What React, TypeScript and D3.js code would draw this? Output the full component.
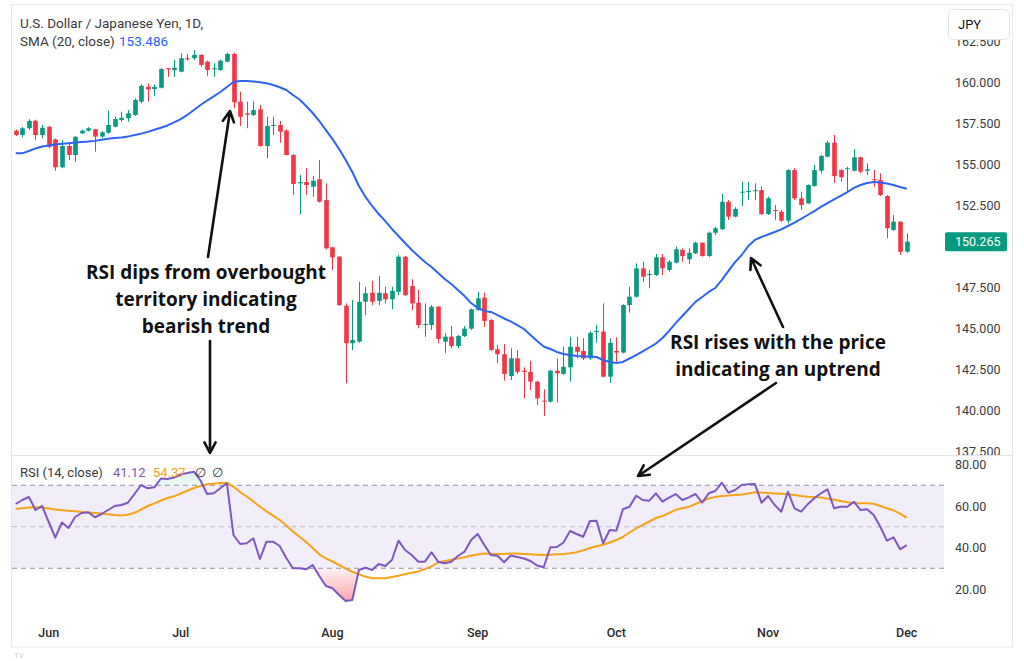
import React from "react";
import * as d3 from "d3";

// ---------------- DATA ----------------
const opens = [
  157.03,156.77,157.18,157.64,156.77,157.27,156.50,154.80,156.10,155.55,
  156.87,157.03,157.12,156.67,156.91,157.27,157.68,157.79,157.99,158.80,
  159.71,159.57,159.65,160.84,160.73,160.63,161.45,161.45,161.65,161.24,
  160.77,160.73,161.24,161.71,158.80,158.09,157.99,158.33,156.10,157.32,
  157.38,157.03,155.55,153.82,153.90,153.62,154.07,152.80,149.92,149.35,
  146.36,144.07,144.17,146.60,147.15,146.66,147.12,146.75,147.21,149.35,
  147.56,146.54,145.18,145.18,146.30,144.17,144.47,143.90,144.51,144.96,
  146.10,146.85,145.49,143.70,143.40,142.07,143.15,142.40,142.32,141.73,
  140.57,140.51,142.40,142.20,142.60,143.86,143.60,143.15,144.75,144.78,
  142.03,143.60,143.50,146.40,146.91,148.64,148.23,148.23,149.31,148.54,
  148.98,149.76,149.19,149.55,150.20,149.39,150.81,151.02,152.70,151.79,
  153.25,153.29,153.34,153.41,151.95,152.20,152.09,151.54,154.63,152.91,
  152.60,153.66,154.59,155.45,156.30,154.63,154.68,154.59,155.41,154.59,
  154.07,154.02,153.05,150.98,151.48,149.65
];
const highs = [
  157.10,157.25,157.73,157.70,157.38,157.32,156.55,156.46,156.22,156.70,
  157.10,157.25,157.15,157.00,158.25,157.88,158.19,158.29,159.00,159.86,
  159.92,159.86,160.85,160.85,161.34,161.75,161.71,161.95,161.70,161.30,
  161.14,161.35,161.79,161.79,159.41,158.80,158.84,158.60,157.88,157.88,
  157.62,157.12,155.60,154.33,154.74,154.27,155.24,153.82,149.95,149.40,
  146.50,146.71,147.82,147.52,147.88,148.17,147.52,147.52,149.45,149.40,
  147.97,147.32,146.50,146.40,146.35,144.68,145.12,144.57,145.12,146.20,
  147.21,147.15,145.55,143.96,144.02,143.76,143.66,142.60,143.00,141.79,
  141.26,142.45,143.15,143.86,144.47,144.47,144.37,144.80,145.18,146.50,
  144.37,144.43,146.45,147.52,148.94,149.04,148.54,149.51,149.51,149.15,
  149.96,149.86,149.86,150.26,150.22,150.88,151.18,153.17,152.80,152.36,
  153.92,153.92,153.82,153.62,153.01,152.50,152.20,154.68,154.74,153.31,
  153.75,154.94,155.55,156.42,156.77,154.68,154.84,155.90,155.45,155.04,
  154.63,154.43,153.10,151.89,151.50,150.77
];
const lows = [
  156.70,156.63,157.07,156.46,156.57,155.96,154.59,154.74,155.24,155.14,
  156.85,156.98,155.75,156.60,156.85,157.24,157.58,157.58,157.93,158.70,
  158.80,159.15,159.60,160.32,160.32,160.59,161.30,161.34,160.93,160.37,
  160.32,160.68,161.20,158.40,157.32,157.18,157.93,156.05,155.35,156.77,
  156.30,155.53,153.11,151.95,153.11,153.00,152.65,149.80,148.54,146.35,
  141.63,143.66,144.10,145.79,146.40,146.40,146.50,146.14,147.00,146.95,
  146.10,144.98,144.47,144.88,144.07,143.46,143.76,143.76,144.45,144.88,
  146.06,145.08,143.60,142.85,141.79,141.83,142.20,140.71,141.22,140.30,
  139.63,140.45,140.45,142.15,141.73,143.15,143.05,143.05,144.10,141.98,
  141.66,142.94,143.45,145.94,146.85,147.82,147.42,148.17,148.23,148.43,
  148.94,149.04,148.90,149.51,149.35,149.33,150.67,150.98,151.59,151.75,
  152.44,152.80,152.80,151.89,151.89,151.59,151.48,151.38,152.80,152.20,
  152.58,153.62,154.43,155.41,153.86,153.92,153.31,154.55,154.43,154.33,
  153.62,153.05,150.47,150.93,149.45,149.59
];
const closes = [
  156.77,157.18,157.62,156.77,157.21,156.05,154.80,156.10,155.55,156.66,
  157.03,157.18,156.67,156.93,157.38,157.74,157.82,158.09,158.90,159.77,
  159.55,159.71,160.79,160.77,160.87,161.45,161.38,161.65,161.04,160.73,
  160.84,161.30,161.71,158.76,157.88,158.01,158.29,156.10,157.32,157.38,
  156.97,155.55,153.78,153.90,153.72,153.98,152.70,149.86,149.31,146.40,
  144.07,144.27,146.60,147.12,146.60,147.15,146.75,147.27,149.35,147.00,
  146.50,145.18,145.24,146.30,144.33,144.47,143.90,144.51,144.96,146.14,
  146.81,145.43,143.66,143.40,142.20,143.15,142.33,142.32,141.73,140.71,
  140.51,142.40,142.24,142.64,143.86,143.55,143.15,144.71,144.82,142.03,
  144.10,143.50,146.40,146.91,148.64,148.13,148.29,149.31,148.64,149.04,
  149.80,149.39,149.59,150.20,149.39,150.81,151.08,152.70,151.79,152.26,
  153.31,153.35,153.40,151.95,152.91,152.15,151.54,154.63,152.91,152.50,
  153.72,154.63,155.49,156.30,154.27,154.19,154.74,155.41,154.53,154.68,
  154.02,153.11,151.08,151.48,149.65,150.265
];
const sma20 = [
  155.65,155.65,155.79,155.95,156.07,156.13,156.19,156.23,156.27,156.31,
  156.34,156.37,156.41,156.48,156.54,156.59,156.62,156.67,156.77,156.85,
  156.96,157.09,157.21,157.35,157.54,157.74,157.99,158.29,158.60,158.87,
  159.12,159.39,159.70,160.00,160.06,160.06,160.03,159.99,159.92,159.82,
  159.68,159.51,159.21,158.93,158.54,158.11,157.62,157.07,156.52,155.91,
  155.24,154.51,153.66,152.99,152.44,151.95,151.52,151.04,150.61,150.18,
  149.76,149.39,149.02,148.72,148.35,147.99,147.68,147.32,146.95,146.52,
  146.22,146.04,145.98,145.79,145.58,145.40,145.18,144.94,144.57,144.21,
  143.87,143.72,143.54,143.41,143.35,143.29,143.26,143.26,143.23,143.05,
  142.93,142.87,142.93,143.14,143.35,143.57,143.81,144.05,144.39,144.82,
  145.30,145.73,146.16,146.59,146.89,147.20,147.44,147.93,148.48,149.02,
  149.45,150.00,150.37,150.55,150.70,150.85,151.01,151.22,151.43,151.65,
  151.89,152.13,152.38,152.62,152.84,153.05,153.29,153.54,153.72,153.84,
  153.90,153.87,153.81,153.72,153.60,153.49
];
const rsi14 = [
  60.96,62.89,64.34,58.07,60.00,52.29,44.72,52.05,49.40,54.70,
  56.63,56.96,54.55,56.14,58.07,60.00,60.48,61.59,65.78,70.12,
  68.53,69.01,73.25,73.01,73.73,75.18,75.90,76.53,72.29,65.78,
  66.12,68.53,70.94,46.02,41.69,42.02,44.43,34.46,42.80,42.80,
  40.72,34.94,29.98,29.98,29.49,31.57,26.27,21.45,20.34,17.11,
  14.22,14.70,29.16,30.27,29.16,32.05,31.08,33.98,43.28,38.80,
  36.39,33.16,33.16,37.69,33.16,32.39,33.16,35.90,37.98,43.61,
  46.51,41.20,36.39,36.05,32.87,36.14,35.42,34.70,33.49,31.33,
  30.46,40.10,40.24,42.41,47.95,46.51,45.20,52.77,52.92,42.02,
  48.43,48.10,58.41,59.66,64.96,62.89,62.55,66.12,62.07,64.00,
  65.78,62.89,64.19,65.78,61.59,66.12,67.23,71.23,66.41,67.71,
  70.12,70.46,70.60,61.59,64.82,60.48,57.25,66.89,58.89,57.25,
  60.82,63.71,66.12,68.05,58.89,59.66,59.66,62.07,58.07,58.41,
  55.66,50.02,43.28,44.92,39.13,41.12
];
const rsiMA = [
  58.55,58.89,59.23,59.37,59.23,58.80,58.31,57.98,57.69,57.45,
  57.11,56.92,56.63,56.39,56.05,55.66,55.37,55.76,56.72,58.31,
  60.00,61.30,62.65,63.86,64.67,66.02,67.37,68.67,69.64,70.46,
  70.75,71.04,71.23,69.25,66.75,64.58,62.22,59.76,57.40,55.37,
  53.25,50.55,47.66,45.16,42.65,39.76,36.72,34.80,33.25,31.57,
  29.83,28.29,26.99,25.98,25.16,25.16,25.20,25.78,26.36,27.23,
  27.81,28.48,29.54,30.94,32.77,33.54,34.07,34.70,35.33,36.14,
  36.67,37.16,37.01,36.87,36.87,37.11,37.06,36.87,36.72,36.53,
  36.39,36.53,36.72,36.87,37.25,37.73,38.70,39.76,40.58,41.35,
  42.41,43.61,45.06,47.23,49.16,50.94,52.53,54.22,55.18,56.63,
  58.17,58.89,59.61,60.96,62.27,63.61,64.39,64.82,65.01,65.30,
  65.59,66.07,66.60,66.46,66.22,66.02,65.88,65.69,65.30,64.82,
  64.43,64.29,64.05,63.52,63.04,62.41,61.83,61.35,61.30,61.30,
  61.06,60.00,58.94,57.93,56.34,54.37
];
const priceTicks = [137.5, 140, 142.5, 145, 147.5, 152.5, 155, 157.5, 160, 162.5];
const rsiTicks = [20, 40, 60, 80];
const rsiLevels = [70, 50, 30];
const firstDay = "2024-05-27";
const lastPrice = 150.265;
const smaLast = "153.486";
const rsiLast = "41.12";
const rsiMALast = "54.37";

// ---------------- LAYOUT / STYLE ----------------
const W = 1024, H = 661;
const PL = 12, PR = 944;
const MAIN_T = 5, MAIN_B = 455;
const RSI_T = 456, FRAME_B = 647;
const GREEN = "#089981", RED = "#f23645";
const SMA_C = "#2f63f5", RSI_C = "#7e57c2", MA_C = "#f7a21b";
const FONT = "Roboto, 'Liberation Sans', sans-serif";
const ANN_FONT = "'Open Sans', Lato, sans-serif";

function weekdays(start: string, n: number): Date[] {
  const out: Date[] = [];
  const d = new Date(start + "T00:00:00Z");
  while (out.length < n) {
    const wd = d.getUTCDay();
    if (wd !== 0 && wd !== 6) out.push(new Date(d));
    d.setUTCDate(d.getUTCDate() + 1);
  }
  return out;
}

function arrow(x1: number, y1: number, x2: number, y2: number, head = 12) {
  const a = Math.atan2(y2 - y1, x2 - x1);
  const s = Math.PI / 6.5;
  const hx1 = x2 - head * Math.cos(a - s), hy1 = y2 - head * Math.sin(a - s);
  const hx2 = x2 - head * Math.cos(a + s), hy2 = y2 - head * Math.sin(a + s);
  return `M${x1},${y1}L${x2},${y2}M${hx1},${hy1}L${x2},${y2}L${hx2},${hy2}`;
}

export default function App() {
  const dates = weekdays(firstDay, opens.length);
  const keys = dates.map((d) => d.toISOString().slice(0, 10));
  const x = d3.scaleBand<string>().domain(keys).range([12.4, 12.4 + 6.6 * keys.length]).padding(0);
  const bw = x.bandwidth();
  const cx = (i: number) => (x(keys[i]) as number) + bw / 2;
  const yP = d3.scaleLinear().domain([140, 160]).range([410, 82]);
  const yR = d3.scaleLinear().domain([20, 80]).range([589, 464.5]);

  const bodyW = bw * 0.7;
  const idx = d3.range(keys.length);

  const smaLine = d3.line<number>().x((i) => cx(i)).y((i) => yP(sma20[i]))(idx) as string;
  const rsiLine = d3.line<number>().x((i) => cx(i)).y((i) => yR(rsi14[i]))(idx) as string;
  const maLine = d3.line<number>().x((i) => cx(i)).y((i) => yR(rsiMA[i]))(idx) as string;
  const obArea = d3.area<number>().x((i) => cx(i)).y0(yR(70)).y1((i) => yR(rsi14[i]))(idx) as string;
  const osArea = d3.area<number>().x((i) => cx(i)).y0(yR(30)).y1((i) => yR(rsi14[i]))(idx) as string;

  const monthFmt = d3.utcFormat("%b");
  const monthTicks = idx.filter((i) => i > 0 && dates[i].getUTCMonth() !== dates[i - 1].getUTCMonth());

  const f3 = d3.format(".3f");
  const f2 = d3.format(".2f");

  const axisText = { fontFamily: FONT, fontSize: 12.5, fill: "#3b3b3b" } as const;

  return (
    <svg width={W} height={H} style={{ position: "absolute", left: 0, top: 0, display: "block", background: "#fff" }}>
      <defs>
        <clipPath id="mainClip"><rect x={PL} y={MAIN_T} width={PR - PL} height={MAIN_B - MAIN_T} /></clipPath>
        <clipPath id="rsiClip"><rect x={PL} y={RSI_T} width={PR - PL} height={FRAME_B - RSI_T} /></clipPath>
        <clipPath id="mainAxisClip"><rect x={PR} y={MAIN_T} width={1012 - PR} height={MAIN_B - MAIN_T} /></clipPath>
        <clipPath id="rsiAxisClip"><rect x={PR} y={RSI_T} width={1012 - PR} height={FRAME_B - RSI_T} /></clipPath>
        <clipPath id="obClip"><rect x={PL} y={RSI_T} width={PR - PL} height={yR(70) - RSI_T} /></clipPath>
        <clipPath id="osClip"><rect x={PL} y={yR(30)} width={PR - PL} height={FRAME_B - yR(30)} /></clipPath>
        <linearGradient id="obGrad" gradientUnits="userSpaceOnUse" x1="0" x2="0" y1={yR(70)} y2={yR(90)}>
          <stop offset="0" stopColor={GREEN} stopOpacity={0.06} />
          <stop offset="1" stopColor={GREEN} stopOpacity={0.35} />
        </linearGradient>
        <linearGradient id="osGrad" gradientUnits="userSpaceOnUse" x1="0" x2="0" y1={yR(30)} y2={yR(10)}>
          <stop offset="0" stopColor={RED} stopOpacity={0.06} />
          <stop offset="1" stopColor={RED} stopOpacity={0.55} />
        </linearGradient>
      </defs>

      {/* frame */}
      <rect x={11.5} y={4.5} width={1001} height={FRAME_B - 4.5} fill="#fff" stroke="#e6e8ee" />
      <line x1={PL} x2={1012} y1={455.5} y2={455.5} stroke="#e0e3eb" />

      {/* ---- main pane ---- */}
      <g clipPath="url(#mainClip)">
        {idx.map((i) => {
          const o = opens[i], c = closes[i];
          const col = c >= o ? GREEN : RED;
          const xc = Math.round(cx(i)) + 0.5;
          const yt = yP(Math.max(o, c)), yb = yP(Math.min(o, c));
          return (
            <g key={keys[i]}>
              <line x1={xc} x2={xc} y1={yP(highs[i])} y2={yP(lows[i])} stroke={col} strokeWidth={1} />
              <rect x={xc - bodyW / 2} y={yt} width={bodyW} height={Math.max(1, yb - yt)} fill={col} />
            </g>
          );
        })}
        <path d={smaLine} fill="none" stroke={SMA_C} strokeWidth={2} strokeLinejoin="round" />
      </g>

      {/* price axis */}
      <g clipPath="url(#mainAxisClip)">
        {priceTicks.map((t) => (
          <text key={t} x={955} y={yP(t)} dominantBaseline="central" {...axisText}>{f3(t)}</text>
        ))}
        <rect x={945} y={yP(lastPrice) - 9.5} width={62} height={19} rx={2} fill={GREEN} />
        <text x={955} y={yP(lastPrice)} dominantBaseline="central" fontFamily={FONT} fontSize={12.5} fill="#fff">{f3(lastPrice)}</text>
      </g>
      <rect x={948.5} y={9.5} width={61} height={30} rx={5} fill="#fff" stroke="#e0e3eb" />
      <text x={958} y={24.5} dominantBaseline="central" fontFamily={FONT} fontSize={13} fill="#131722">JPY</text>

      {/* legend main */}
      <text x={20} y={23} dominantBaseline="central" fontFamily={FONT} fontSize={13.5} fill="#3a3a3a">U.S. Dollar / Japanese Yen, 1D,</text>
      <text x={20} y={41} dominantBaseline="central" fontFamily={FONT} fontSize={13.5} fill="#3a3a3a">SMA (20, close)</text>
      <text x={119} y={41} dominantBaseline="central" fontFamily={FONT} fontSize={13.5} fill="#2962ff">{smaLast}</text>

      {/* ---- RSI pane ---- */}
      <g clipPath="url(#rsiClip)">
        <rect x={PL} y={yR(70)} width={PR - PL} height={yR(30) - yR(70)} fill={RSI_C} fillOpacity={0.1} />
        {rsiLevels.map((l) => (
          <line key={l} x1={PL} x2={PR} y1={yR(l)} y2={yR(l)} stroke="#868993" strokeOpacity={l === 50 ? 0.5 : 0.9} strokeDasharray="5 4" />
        ))}
        <path d={obArea} fill="url(#obGrad)" clipPath="url(#obClip)" />
        <path d={osArea} fill="url(#osGrad)" clipPath="url(#osClip)" />
        <path d={maLine} fill="none" stroke={MA_C} strokeWidth={2} strokeLinejoin="round" />
        <path d={rsiLine} fill="none" stroke={RSI_C} strokeWidth={2} strokeLinejoin="round" />
      </g>
      <g clipPath="url(#rsiAxisClip)">
        {rsiTicks.map((t) => (
          <text key={t} x={955} y={yR(t)} dominantBaseline="central" {...axisText}>{f2(t)}</text>
        ))}
      </g>
      <text x={20} y={472} dominantBaseline="central" fontFamily={FONT} fontSize={13} fill="#3a3a3a">RSI (14, close)</text>
      <text x={113} y={472} dominantBaseline="central" fontFamily={FONT} fontSize={13} fill={RSI_C}>{rsiLast}</text>
      <text x={153} y={472} dominantBaseline="central" fontFamily={FONT} fontSize={13} fill={MA_C}>{rsiMALast}</text>
      <text x={195} y={472} dominantBaseline="central" fontFamily={FONT} fontSize={13} fill="#3a3a3a">∅</text>
      <text x={212} y={472} dominantBaseline="central" fontFamily={FONT} fontSize={13} fill="#3a3a3a">∅</text>

      {/* time axis */}
      {monthTicks.map((i) => (
        <text key={keys[i]} x={cx(i)} y={632} textAnchor="middle" dominantBaseline="central" fontFamily={FONT} fontSize={12.5} fontWeight={500} fill="#2a2a2a">
          {monthFmt(dates[i])}
        </text>
      ))}
      <text x={14} y={658} fontFamily={FONT} fontSize={8} fill="#cfcfcf">TV</text>

      {/* ---- annotations ---- */}
      <g fontFamily={ANN_FONT} fontWeight={700} fontSize={19} fill="#111" textAnchor="middle">
        <text x={206} y={272} dominantBaseline="central">RSI dips from overbought</text>
        <text x={206} y={299} dominantBaseline="central">territory indicating</text>
        <text x={206} y={326} dominantBaseline="central">bearish trend</text>
        <text x={778} y={342} dominantBaseline="central">RSI rises with the price</text>
        <text x={778} y={369} dominantBaseline="central">indicating an uptrend</text>
      </g>
      <g fill="none" stroke="#111" strokeWidth={2.6} strokeLinecap="round" strokeLinejoin="round">
        <path d={arrow(208, 257, 230, 111)} />
        <path d={arrow(210, 341, 210, 453)} />
        <path d={arrow(783, 327, 751, 258)} />
        <path d={arrow(776, 383, 638, 476)} />
      </g>
    </svg>
  );
}
